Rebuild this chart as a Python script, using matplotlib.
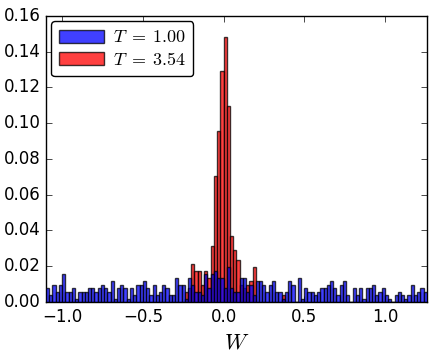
import numpy as np
import matplotlib
matplotlib.use('Agg')
import matplotlib.pyplot as plt

plt.style.use('classic')
plt.rcParams['mathtext.fontset'] = 'cm'

# bins in W (width 0.02)
w_lo = -1.10
w_hi = 1.26
n_bins = 118
edges = np.linspace(w_lo, w_hi, n_bins + 1)
centers = 0.5 * (edges[:-1] + edges[1:])

# counts per bin, normalised by 512 samples
unit = 1.0 / 512

blue_counts = [4, 2, 5, 3, 5, 8, 3, 3, 4, 1,
               3, 3, 3, 4, 4, 3, 4, 5, 4, 3,
               6, 1, 4, 5, 4, 1, 4, 2, 5, 5,
               6, 4, 2, 5, 2, 3, 5, 4, 2, 2,
               7, 5, 5, 1, 7, 5, 3, 3, 2, 8,
               4, 8, 9, 7, 7, 4, 10, 4, 3, 3,
               7, 7, 3, 5, 2, 6, 6, 5, 3, 5,
               6, 3, 3, 1, 3, 6, 5, 0, 7, 1,
               4, 3, 3, 2, 3, 4, 4, 5, 6, 4,
               2, 5, 6, 2, 0, 4, 2, 4, 1, 4,
               4, 5, 2, 3, 4, 2, 1, 0, 2, 3,
               2, 1, 2, 5, 2, 3, 4, 3]

red_counts = [0, 0, 0, 0, 0, 0, 0, 0, 0, 0,
              0, 0, 0, 0, 0, 0, 0, 0, 0, 0,
              0, 0, 0, 0, 0, 0, 0, 0, 0, 0,
              0, 0, 0, 0, 0, 0, 0, 0, 0, 0,
              0, 0, 0, 3, 4, 11, 9, 9, 5, 9,
              7, 16, 36, 49, 66, 76, 56, 19, 15, 12,
              5, 4, 5, 6, 10, 0, 0, 0, 0, 0,
              0, 0, 0, 2, 0, 0, 0, 0, 0, 0,
              0, 0, 0, 0, 0, 0, 0, 0, 0, 0,
              0, 0, 0, 0, 0, 0, 0, 0, 0, 0,
              0, 0, 0, 0, 0, 0, 0, 0, 0, 0,
              0, 0, 0, 0, 0, 0, 0, 0]

labels = [r'$T\;=\;1.00$', r'$T\;=\;3.54$']

fig = plt.figure(figsize=(4.36, 3.52), dpi=100)
ax = fig.add_axes([0.1055, 0.142, 0.8735, 0.813])

n_r, b_r, p_red = ax.hist(centers, bins=edges, weights=np.array(red_counts) * unit,
                          color='r', alpha=0.75, label=labels[1], zorder=2)
n_b, b_b, p_blue = ax.hist(centers, bins=edges, weights=np.array(blue_counts) * unit,
                           color='b', alpha=0.75, label=labels[0], zorder=3)

ax.set_xlim(w_lo, w_hi)
ax.set_ylim(0, 0.16)
ax.set_xticks([-1.0, -0.5, 0.0, 0.5, 1.0])
ax.set_yticks(np.arange(0, 0.161, 0.02))
ax.tick_params(labelsize=12)
ax.set_xlabel('$W$', fontsize=16)

leg = ax.legend([p_blue[0], p_red[0]], labels, loc='upper left', fancybox=True,
                fontsize=13, handlelength=2.5, handleheight=0.75,
                handletextpad=0.5, labelspacing=0.25, borderaxespad=0.3)
leg.set_zorder(5)

fig.savefig('out.png', dpi=100)
